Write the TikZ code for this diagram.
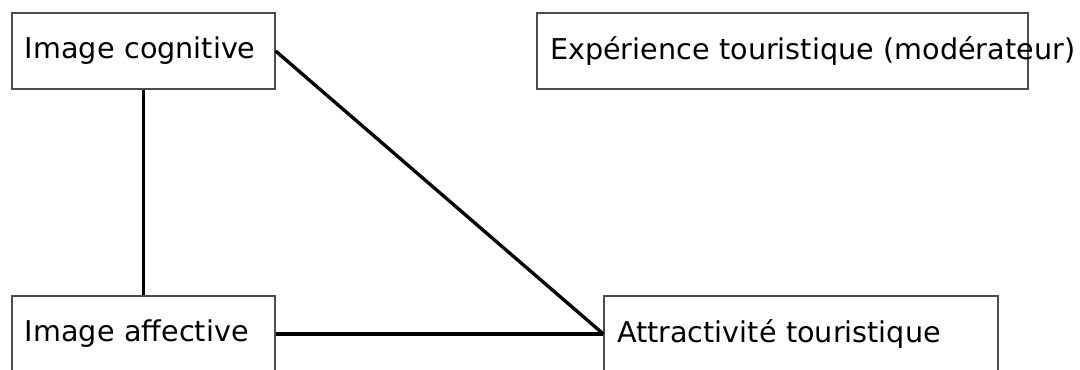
\documentclass[tikz,border=0pt]{standalone}
\usepackage{fontspec}
\setmainfont{DejaVu Sans}
\usepackage{tikz}
\usetikzlibrary{positioning}

\begin{document}
\begin{tikzpicture}[
  box/.style={draw=black!70, line width=0.7pt, minimum height=1.52cm, inner xsep=0.26cm, align=left, font=\fontsize{16.3}{19}\selectfont},
  link/.style={line width=1.9pt}
]
\useasboundingbox (0,0) rectangle (21.6,7.38);
\node[box, text width=4.74cm] (cog) at (2.87,6.36) {Image cognitive};
\node[box, text width=9.30cm] (exp) at (15.65,6.36) {\mbox{Expérience touristique (modérateur)}};
\node[box, text width=4.74cm] (aff) at (2.87,0.70) {Image affective};
\node[box, text width=7.36cm] (attr) at (16.02,0.70) {Attractivité touristique};
\draw[link] (cog.south) -- (aff.north);
\draw[link] (cog.east) -- (attr.west);
\draw[link] (aff.east) -- (attr.west);
\end{tikzpicture}
\end{document}
